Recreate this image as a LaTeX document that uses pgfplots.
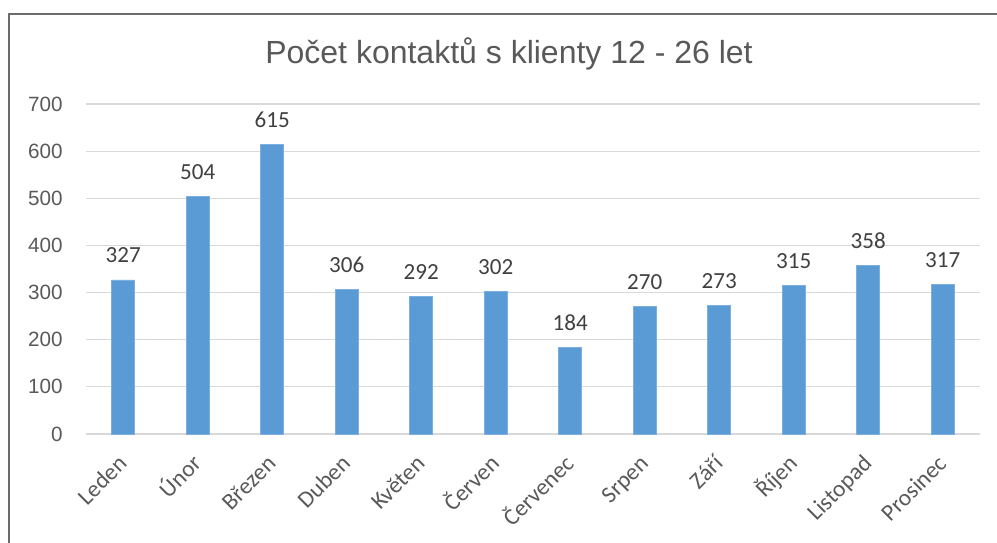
\documentclass[border=0pt]{standalone}
\usepackage{fontspec}
\setmainfont{Liberation Sans}
\newfontfamily\calib{Carlito}
\usepackage{pgfplots}
\pgfplotsset{compat=1.18}
\definecolor{barblue}{HTML}{5B9BD5}
\definecolor{txtgray}{HTML}{595959}
\definecolor{lblgray}{HTML}{404040}
\definecolor{gridgray}{HTML}{D9D9D9}
\definecolor{framegray}{HTML}{6B6B6B}

\pgfplotstableread{
idx value
0  327
1  504
2  615
3  306
4  292
5  302
6  184
7  270
8  273
9  315
10 358
11 317
}\kontakty

\begin{document}
\begin{tikzpicture}
% page = 997x543 px at 0.75pt per px, axis origin at px (86,434)
\useasboundingbox (-64.5pt,-81.75pt) rectangle (683.25pt,325.5pt);
\draw[framegray, line width=1.1pt] (-57.75pt,-90pt) -- (-57.75pt,315pt) -- (700pt,315pt);
\begin{axis}[
  at={(0,0)}, anchor=south west,
  scale only axis,
  width=670.5pt, height=247.5pt,
  xmin=-0.5, xmax=11.5,
  ymin=0, ymax=700,
  ytick={0,100,...,700},
  xtick=data,
  xticklabels={Leden,Únor,Březen,Duben,Květen,Červen,Červenec,Srpen,Září,Říjen,Listopad,Prosinec},
  axis line style={draw=none},
  major tick length=0pt,
  ymajorgrids,
  grid style={gridgray, line width=0.9pt},
  /pgf/number format/assume math mode=true,
  yticklabel style={font=\fontsize{15.5}{18}\selectfont, text=txtgray,
                    anchor=east, inner sep=0pt, xshift=-17.25pt},
  xticklabel style={font=\calib\fontsize{17.6}{20}\selectfont, text=txtgray,
                    inner sep=0pt, xshift=3.75pt, yshift=-23.25pt,
                    rotate=45, anchor=base east},
  ybar, bar width=17.25pt,
  nodes near coords,
  nodes near coords style={font=\calib\fontsize{17.3}{20}\selectfont, text=lblgray,
                           anchor=base, inner sep=0pt, yshift=12.75pt},
  clip=false,
]
\addplot[fill=barblue, draw=barblue!80!white, line width=0.4pt] table[x=idx, y=value] {\kontakty};
\end{axis}
\node[anchor=base, text=txtgray, font=\fontsize{24}{28}\selectfont, inner sep=0pt]
  at (317.25pt,277.5pt) {Počet kontaktů s klienty 12 - 26 let};
\end{tikzpicture}
\end{document}
